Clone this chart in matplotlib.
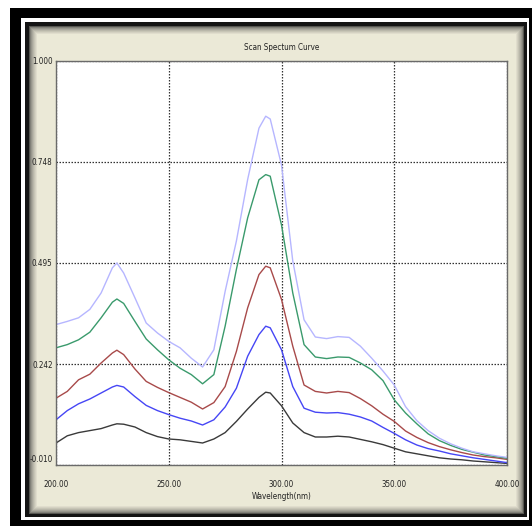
import numpy as np
import matplotlib
matplotlib.use("Agg")
import matplotlib.pyplot as plt
import matplotlib.transforms as mtransforms

plt.rcParams['font.family'] = ['DejaVu Sans']
plt.rcParams['font.stretch'] = 'condensed'

W, H = 532, 526

wavelength = [200, 205, 210, 215, 220, 225, 227, 230, 235, 240, 245, 250, 255, 260, 265,
              270, 275, 280, 285, 290, 293, 295, 300, 305, 310, 315, 320, 325, 330, 335,
              340, 345, 350, 355, 360, 365, 370, 375, 380, 385, 390, 395, 400]

abs_lavender = [0.341, 0.349, 0.358, 0.379, 0.420, 0.483, 0.495, 0.470, 0.408, 0.345, 0.320,
                0.299, 0.283, 0.257, 0.235, 0.278, 0.424, 0.550, 0.704, 0.832, 0.862, 0.855,
                0.740, 0.500, 0.353, 0.310, 0.306, 0.311, 0.309, 0.287, 0.257, 0.225, 0.190,
                0.136, 0.101, 0.076, 0.057, 0.043, 0.032, 0.023, 0.018, 0.013, 0.009]
abs_green = [0.283, 0.291, 0.303, 0.322, 0.358, 0.397, 0.405, 0.394, 0.349, 0.305, 0.278,
             0.253, 0.232, 0.216, 0.193, 0.216, 0.337, 0.479, 0.608, 0.703, 0.716, 0.712,
             0.590, 0.420, 0.291, 0.260, 0.256, 0.260, 0.259, 0.245, 0.228, 0.201, 0.153,
             0.120, 0.093, 0.068, 0.051, 0.039, 0.029, 0.022, 0.015, 0.011, 0.007]
abs_red = [0.157, 0.174, 0.203, 0.217, 0.245, 0.270, 0.277, 0.266, 0.230, 0.199, 0.184,
           0.171, 0.159, 0.147, 0.130, 0.146, 0.186, 0.274, 0.383, 0.466, 0.487, 0.483,
           0.404, 0.287, 0.190, 0.174, 0.170, 0.174, 0.171, 0.156, 0.138, 0.117, 0.099,
           0.075, 0.059, 0.046, 0.036, 0.028, 0.021, 0.015, 0.011, 0.008, 0.004]
abs_blue = [0.103, 0.126, 0.143, 0.155, 0.170, 0.185, 0.189, 0.185, 0.161, 0.139, 0.126,
            0.116, 0.107, 0.100, 0.090, 0.103, 0.135, 0.182, 0.262, 0.316, 0.337, 0.333,
            0.278, 0.186, 0.132, 0.122, 0.120, 0.121, 0.117, 0.110, 0.100, 0.084, 0.069,
            0.053, 0.040, 0.031, 0.025, 0.018, 0.013, 0.008, 0.004, 0.000, -0.004]
abs_black = [0.045, 0.063, 0.071, 0.076, 0.081, 0.090, 0.093, 0.092, 0.085, 0.071, 0.061,
             0.055, 0.053, 0.049, 0.045, 0.055, 0.071, 0.099, 0.130, 0.159, 0.172, 0.170,
             0.138, 0.095, 0.071, 0.060, 0.060, 0.062, 0.060, 0.054, 0.048, 0.041, 0.032,
             0.023, 0.018, 0.013, 0.008, 0.005, 0.003, 0.000, -0.002, -0.004, -0.006]

xticks = [200, 250, 300, 350, 400]
xtick_labels = ['200.00', '250.00', '300.00', '350.00', '400.00']
yticks = [-0.010, 0.242, 0.495, 0.748, 1.000]
ytick_labels = ['-0.010', '0.242', '0.495', '0.748', '1.000']

series = [
    (abs_black, '#3a3a3a'),
    (abs_blue, '#4646f5'),
    (abs_red, '#a84a4a'),
    (abs_green, '#3a9a6c'),
    (abs_lavender, '#b6b6ff'),
]

fig = plt.figure(figsize=(W / 100, H / 100), dpi=100)
fig.patch.set_facecolor('white')

# ---- decorative window frame (background image) ----
img = np.ones((H, W, 3))
img[8:526, 10:532] = 0.0
img[18:520, 21:529] = 1.0
img[22:517, 25:527] = 0.08
beige = np.array([0.925, 0.914, 0.847])
dark = np.array([0.34, 0.34, 0.32])
r0, r1, c0, c1 = 26, 514, 29, 524
rr, cc = np.meshgrid(np.arange(r0, r1), np.arange(c0, c1), indexing='ij')
d = np.minimum(np.minimum(rr - r0, r1 - 1 - rr), np.minimum(cc - c0, c1 - 1 - cc))
t = np.clip(d / 8.0, 0, 1) ** 0.6
img[r0:r1, c0:c1] = dark[None, None, :] * (1 - t[..., None]) + beige[None, None, :] * t[..., None]

bg = fig.add_axes([0, 0, 1, 1])
bg.imshow(img, extent=[0, W, H, 0], interpolation='nearest', aspect='auto')
bg.set_xlim(0, W)
bg.set_ylim(H, 0)
bg.axis('off')

# ---- plot axes ----
L, R, T, B = 56, 507, 61, 465
ax = fig.add_axes([L / W, (H - B) / H, (R - L) / W, (B - T) / H])
ax.set_facecolor('white')

for vals, col in series:
    ax.plot(wavelength, vals, color=col, lw=1.0, solid_joinstyle='round')

fs = 5.8
ax.set_xlim(200, 400)
ax.set_ylim(-0.010, 1.000)
ax.set_xticks(xticks)
ax.set_xticklabels(xtick_labels)
ax.set_yticks(yticks)
ax.set_yticklabels(ytick_labels)
ax.tick_params(length=0, labelsize=fs, colors='#222222')
ax.tick_params(axis='x', pad=11)
ax.tick_params(axis='y', pad=2.5)

lbl = ax.get_yticklabels()[0]
lbl.set_transform(lbl.get_transform() + mtransforms.ScaledTranslation(0, 6 / 100, fig.dpi_scale_trans))

ax.grid(True, color='#333333', linestyle=(0, (1.2, 1.2)), linewidth=0.9)
for s in ax.spines.values():
    s.set_color('#6a6a6a')
    s.set_linewidth(1.0)

ax.set_title('Scan Spectum Curve', fontsize=fs, color='#222222', pad=8)
ax.set_xlabel('Wavelength(nm)', fontsize=fs, color='#222222', labelpad=2)

fig.savefig('out.png', dpi=100)
